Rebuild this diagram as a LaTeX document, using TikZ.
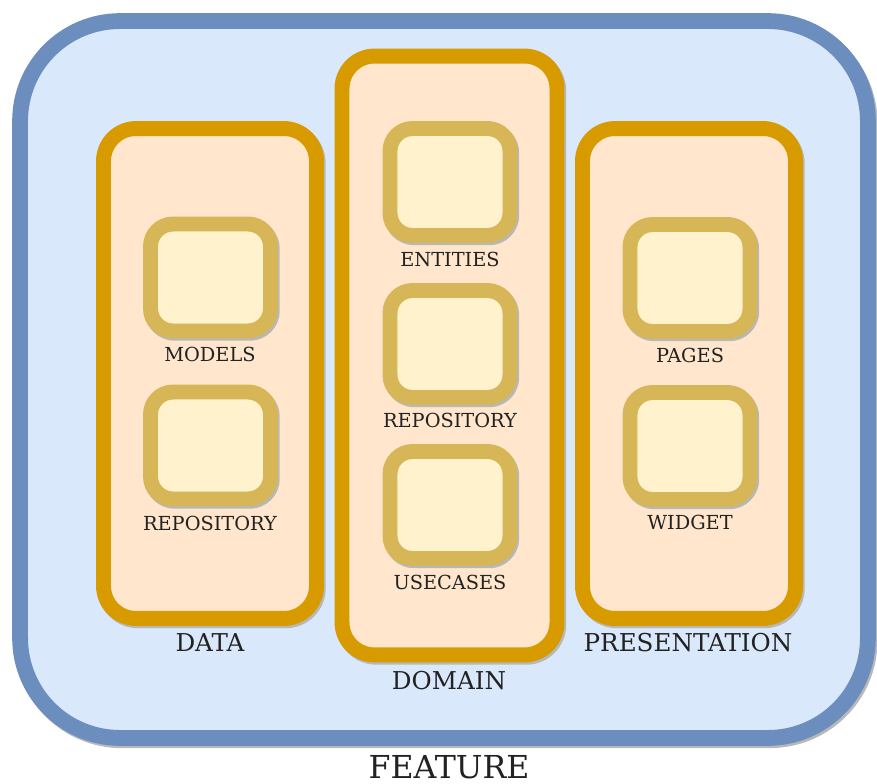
\documentclass[tikz,border=0pt]{standalone}
\usepackage{fontspec}
\setmainfont{DejaVu Serif}
\definecolor{featline}{HTML}{6C8EBF}
\definecolor{featfill}{HTML}{DAE8FC}
\definecolor{layerline}{HTML}{D79B00}
\definecolor{layerfill}{HTML}{FFE6CC}
\definecolor{partline}{HTML}{D6B656}
\definecolor{partfill}{HTML}{FFF2CC}
\definecolor{txt}{HTML}{222222}
\tikzset{
  shade off/.style={preaction={draw=black!28, line width=#1, transform canvas={shift={(1pt,-1.3pt)}}}},
  featbox/.style={draw=featline, fill=featfill, line width=9pt, rounded corners=2cm,
    shade off=9pt, minimum width=16.96cm, minimum height=14.34cm},
  layerbox/.style={draw=layerline, fill=layerfill, line width=8.5pt, rounded corners=0.65cm,
    shade off=8.5pt, minimum width=4.26cm},
  partbox/.style={draw=partline, fill=partfill, line width=8.5pt, rounded corners=0.45cm,
    shade off=8.5pt, minimum width=2.4cm, minimum height=2.14cm},
  lbl/.style={text=txt, font=\fontsize{11}{13}\selectfont, inner sep=0pt},
  biglbl/.style={text=txt, font=\fontsize{14}{16}\selectfont, inner sep=0pt},
}
\begin{document}
\begin{tikzpicture}[x=0.02cm, y=-0.02cm]
    \useasboundingbox (0,0) rectangle (877,784);

    % Feature container
    \node[featbox] (feature) at (444,379.5) {};
    \node[text=txt, font=\fontsize{18}{21}\selectfont, inner sep=0pt] (featlbl) at (449,767) {FEATURE};

    % Data layer
    \node[layerbox, minimum height=9.8cm] (data) at (210,373.5) {};
    \node[biglbl] (datalbl) at (210,643) {DATA};
    \node[partbox] (dmodels) at (210.5,277.5) {};
    \node[lbl] at (210,354) {MODELS};
    \node[partbox] (drepo) at (210.5,445.5) {};
    \node[lbl] at (210,523) {REPOSITORY};

    % Domain layer
    \node[layerbox, minimum width=4.3cm, minimum height=11.98cm] (domain) at (449.5,355.5) {};
    \node[biglbl] (domainlbl) at (449,681) {DOMAIN};
    \node[partbox] (entities) at (450,182) {};
    \node[lbl] at (450,259) {ENTITIES};
    \node[partbox] (mrepo) at (450,344) {};
    \node[lbl] at (450,420) {REPOSITORY};
    \node[partbox] (usecases) at (450,505) {};
    \node[lbl] at (450,582) {USECASES};

    % Presentation layer
    \node[layerbox, minimum height=9.8cm] (pres) at (689,373.5) {};
    \node[biglbl] (preslbl) at (688,643) {PRESENTATION};
    \node[partbox] (pages) at (690,278) {};
    \node[lbl] at (690,355) {PAGES};
    \node[partbox] (widget) at (690,446) {};
    \node[lbl] at (690,522) {WIDGET};
\end{tikzpicture}
\end{document}
